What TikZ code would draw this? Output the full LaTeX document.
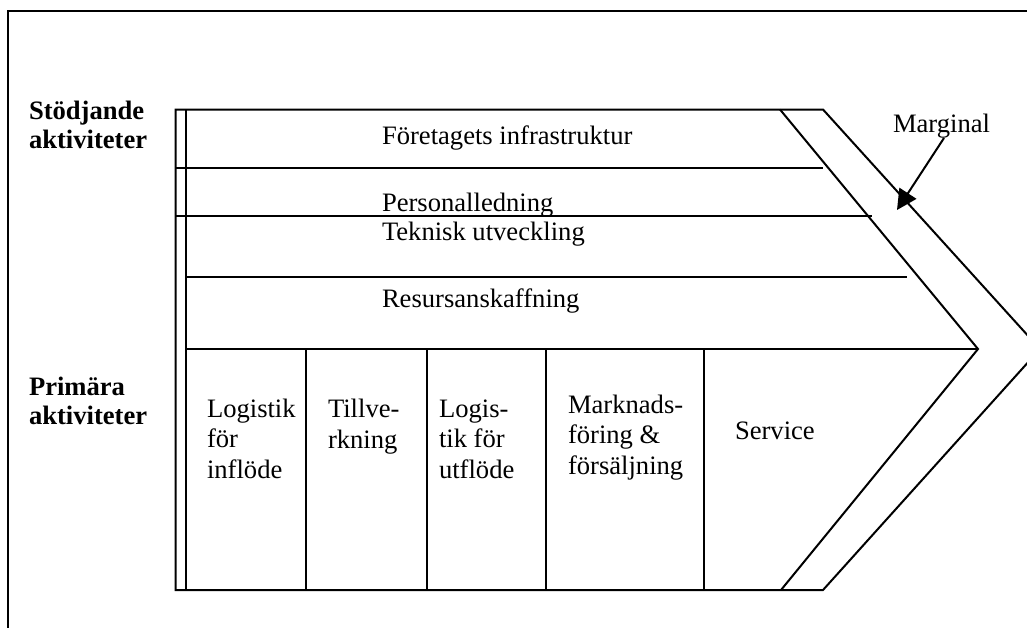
\documentclass[tikz,border=0pt]{standalone}
\usepackage{fontspec}
\setmainfont{Liberation Serif}
\usetikzlibrary{arrows.meta}
\newcommand{\VCTop}{109.5}
\newcommand{\VCFloor}{590}
\newcommand{\VCRowLine}[4]{
  \coordinate (#1a) at (#2,#3);
  \coordinate (#1b) at (#4,#3);
  \draw (#1a) -- (#1b);
}
\newcommand{\VCSupport}[3]{
  \node [anchor = base west] (#1) at (381,#2) {#3};
}
\newcommand{\VCDivider}[2]{
  \coordinate (#1t) at (#2,349);
  \coordinate (#1b) at (#2,\VCFloor);
  \draw (#1t) -- (#1b);
}
% baseline of the last line is given
\newcommand{\VCPrimary}[4]{
  \node [primary] (#1) at (#2,#3) {#4};
}
\tikzset{
  every node/.style={inner sep=0pt, font=\fontsize{13.3}{15.25}\selectfont},
  group/.style={anchor=base west, align=left, font=\fontsize{13.3}{14.5}\selectfont\bfseries},
  primary/.style={anchor=base west, align=left},
}

\begin{document}
\begin{tikzpicture}[x=0.5pt,y=-0.5pt,line width=1pt]
\clip (0,0) rectangle (1027,627);

% frame
\draw (1040,11) -- (7.5,11) -- (7.5,640);

% outline of the chain
\coordinate (tl) at (175.5,\VCTop);
\coordinate (tr) at (823,\VCTop);
\coordinate (tip) at (1040,349);
\coordinate (br) at (823,\VCFloor);
\coordinate (bl) at (175.5,\VCFloor);
\draw (tl) -- (tr) -- (tip) -- (br) -- (bl) -- cycle;
\draw (186,\VCTop) -- (186,\VCFloor);
\coordinate (it) at (780,\VCTop);
\coordinate (itip) at (978,349);
\coordinate (ib) at (781,\VCFloor);
\draw (it) -- (itip) -- (ib);

\VCRowLine{r1}{175.5}{168}{823}
\VCRowLine{r2}{175.5}{216}{872}
\VCRowLine{r3}{186}{277}{907}
\VCRowLine{r4}{186}{349}{978}

\VCDivider{d1}{306}
\VCDivider{d2}{427}
\VCDivider{d3}{546}
\VCDivider{d4}{704}

\node [group] (stod) at (28,148) {Stödjande\\aktiviteter};
\node [group] (prim) at (28,424) {Primära\\aktiviteter};

\VCSupport{infra}{144}{Företagets infrastruktur}
\VCSupport{pers}{211}{Personalledning}
\VCSupport{tekn}{240}{Teknisk utveckling}
\VCSupport{resu}{307}{Resursanskaffning}

\VCPrimary{inlog}{206}{478}{Logistik\\för\\inflöde}
\VCPrimary{tillv}{327}{448}{Tillve-\\rkning}
\VCPrimary{utlog}{438}{478}{Logis-\\tik för\\utflöde}
\VCPrimary{mark}{567}{474}{Marknads-\\föring \&\\försäljning}
\VCPrimary{serv}{734}{439}{Service}

% margin arrow
\node [anchor = base west] (marg) at (892,132) {Marginal};
\coordinate (margfoot) at (944,138);
\coordinate (margtip) at (897,210);
\draw [-{Triangle[length=10pt,width=10pt]}] (margfoot) -- (margtip);
\end{tikzpicture}
\end{document}
